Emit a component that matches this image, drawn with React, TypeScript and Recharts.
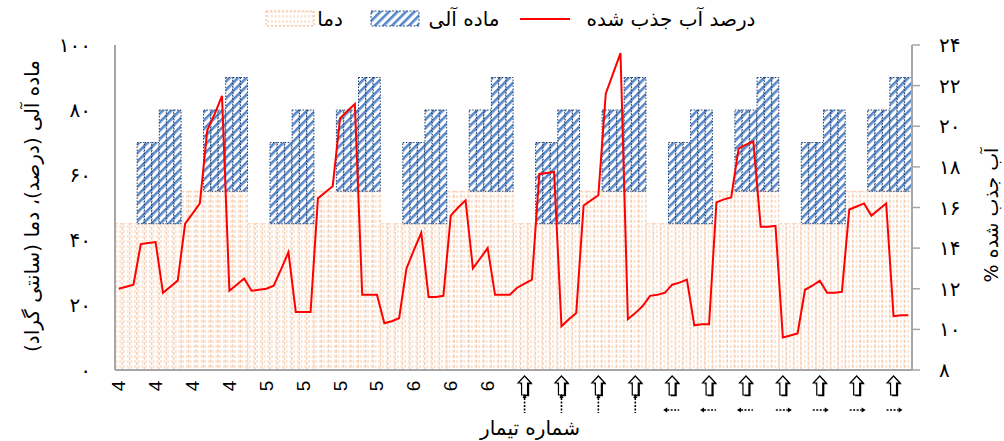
import React from 'react';
import { ComposedChart, Bar, Line, XAxis, YAxis, Label } from 'recharts';

const categories = Array.from({ length: 108 }, (_, i) => `T${i + 1}`);

const temperature = [
  45, 45, 45, 45, 45, 45, 45, 45, 45, 55, 55, 55, 55, 55, 55, 55, 55, 55,
  45, 45, 45, 45, 45, 45, 45, 45, 45, 55, 55, 55, 55, 55, 55, 55, 55, 55,
  45, 45, 45, 45, 45, 45, 45, 45, 45, 55, 55, 55, 55, 55, 55, 55, 55, 55,
  45, 45, 45, 45, 45, 45, 45, 45, 45, 55, 55, 55, 55, 55, 55, 55, 55, 55,
  45, 45, 45, 45, 45, 45, 45, 45, 45, 55, 55, 55, 55, 55, 55, 55, 55, 55,
  45, 45, 45, 45, 45, 45, 45, 45, 45, 55, 55, 55, 55, 55, 55, 55, 55, 55,
];

const organicMatter = [
  0, 0, 0, 25, 25, 25, 35, 35, 35, 0, 0, 0, 25, 25, 25, 35, 35, 35,
  0, 0, 0, 25, 25, 25, 35, 35, 35, 0, 0, 0, 25, 25, 25, 35, 35, 35,
  0, 0, 0, 25, 25, 25, 35, 35, 35, 0, 0, 0, 25, 25, 25, 35, 35, 35,
  0, 0, 0, 25, 25, 25, 35, 35, 35, 0, 0, 0, 25, 25, 25, 35, 35, 35,
  0, 0, 0, 25, 25, 25, 35, 35, 35, 0, 0, 0, 25, 25, 25, 35, 35, 35,
  0, 0, 0, 25, 25, 25, 35, 35, 35, 0, 0, 0, 25, 25, 25, 35, 35, 35,
];

const waterAbsorbed = [
  12.0, 12.1, 12.2, 14.2, 14.25, 14.3, 11.8, 12.1, 12.4, 15.2, 15.7, 16.2, 19.8, 20.6, 21.5, 11.9, 12.2, 12.5,
  11.9, 11.95, 12.0, 12.15, 12.95, 13.8, 10.85, 10.85, 10.85, 16.45, 16.75, 17.05, 20.4, 20.75, 21.1, 11.7, 11.7, 11.7,
  10.3, 10.4, 10.55, 13.0, 13.9, 14.75, 11.6, 11.6, 11.65, 15.6, 16.0, 16.35, 13.0, 13.5, 14.0, 11.7, 11.7, 11.7,
  12.05, 12.25, 12.45, 17.65, 17.7, 17.75, 10.15, 10.5, 10.8, 16.1, 16.35, 16.6, 21.6, 22.6, 23.6, 10.5, 10.8, 11.15,
  11.65, 11.7, 11.8, 12.2, 12.3, 12.45, 10.2, 10.25, 10.25, 16.25, 16.4, 16.5, 18.9, 19.1, 19.25, 15.05, 15.05, 15.1,
  9.6, 9.7, 9.8, 11.95, 12.15, 12.4, 11.8, 11.8, 11.85, 15.9, 16.05, 16.2, 15.6, 15.9, 16.2, 10.65, 10.7, 10.7,
];

const xTickCategories = [
  'T1', 'T6', 'T11', 'T16', 'T21', 'T26', 'T31', 'T36', 'T41', 'T46', 'T51',
  'T56', 'T61', 'T66', 'T71', 'T76', 'T81', 'T86', 'T91', 'T96', 'T101', 'T106',
];
const xTickLabels = [
  '4', '4', '4', '4', '5', '5', '5', '5', '6', '6', '6',
  'up', 'up', 'up', 'up', 'left', 'left', 'left', 'right', 'right', 'right', 'right',
];

const leftTicks = [0, 20, 40, 60, 80, 100];
const rightTicks = [8, 10, 12, 14, 16, 18, 20, 22, 24];
const rightMinorTicks = [8, 9, 10, 11, 12, 13, 14, 15, 16, 17, 18, 19, 20, 21, 22, 23, 24];

const legendNames = { temp: 'دما', organic: 'ماده آلی', water: 'درصد آب جذب شده' };
const xTitle = 'شماره تیمار';
const leftTitle = 'ماده آلی (درصد)، دما (سانتی گراد)';
const rightTitle = 'آب جذب شده %';

const data = categories.map((c, i) => ({
  cat: c,
  temp: temperature[i],
  organic: organicMatter[i],
  water: waterAbsorbed[i],
}));

const FA = 'DejaVu Sans';
const persian = (n: number) => String(n).replace(/\d/g, (d) => '۰۱۲۳۴۵۶۷۸۹'[+d]);

const ArrowBody = ({ x, y }: { x: number; y: number }) => {
  const d = `M ${x} ${y - 2} L ${x + 6.5} ${y + 5} L ${x + 3} ${y + 5} L ${x + 3} ${y + 17} L ${x - 3} ${y + 17} L ${x - 3} ${y + 5} L ${x - 6.5} ${y + 5} Z`;
  return (
    <g>
      <path d={d} transform="translate(1.6,1.2)" fill="#000" />
      <path d={d} fill="#fff" stroke="#000" strokeWidth={1.2} />
    </g>
  );
};

const XTick = (props: any) => {
  const { x, y, payload } = props;
  const idx = xTickCategories.indexOf(payload.value);
  if (idx < 0) return null;
  const lab = xTickLabels[idx];
  if (lab === 'up' || lab === 'left' || lab === 'right') {
    return (
      <g>
        <ArrowBody x={x} y={y} />
        {lab === 'up' && (
          <g>
            <path d={`M ${x - 2} ${y + 20} L ${x + 2} ${y + 20} L ${x} ${y + 16} Z`} fill="#000" />
            <line x1={x} y1={y + 20} x2={x} y2={y + 35} stroke="#000" strokeWidth={1.6} strokeDasharray="2 1.5" />
          </g>
        )}
        {lab === 'left' && (
          <g>
            <line x1={x - 5} y1={y + 32} x2={x + 7} y2={y + 32} stroke="#000" strokeWidth={1.6} strokeDasharray="2 1.5" />
            <path d={`M ${x - 9} ${y + 32} L ${x - 5} ${y + 29.5} L ${x - 5} ${y + 34.5} Z`} fill="#000" />
          </g>
        )}
        {lab === 'right' && (
          <g>
            <line x1={x - 7} y1={y + 32} x2={x + 5} y2={y + 32} stroke="#000" strokeWidth={1.6} strokeDasharray="2 1.5" />
            <path d={`M ${x + 9} ${y + 32} L ${x + 5} ${y + 29.5} L ${x + 5} ${y + 34.5} Z`} fill="#000" />
          </g>
        )}
      </g>
    );
  }
  const cy = y + 8;
  return (
    <text
      x={x}
      y={cy}
      transform={`rotate(-90 ${x} ${cy})`}
      textAnchor="middle"
      dominantBaseline="central"
      fontSize={19}
      fontFamily="Liberation Sans"
      fill="#000"
    >
      {lab}
    </text>
  );
};

const Patterns = () => (
  <defs>
    <pattern id="tempPat" patternUnits="userSpaceOnUse" width={3.7} height={5}>
      <rect x={0} y={0} width={3.7} height={5} fill="#fff" />
      <rect x={1.4} y={0} width={0.9} height={3} fill="#f8c8a4" />
    </pattern>
    <pattern id="orgPat" patternUnits="userSpaceOnUse" width={6} height={6} patternTransform="rotate(45)">
      <rect x={0} y={0} width={6} height={6} fill="#fff" />
      <rect x={0} y={0} width={2.6} height={6} fill="#5687c6" />
    </pattern>
  </defs>
);

const Legend = () => (
  <svg width={1004} height={40} style={{ position: 'absolute', left: 0, top: 0 }}>
    <Patterns />
    <rect x={266} y={11} width={48} height={15} fill="url(#tempPat)" stroke="#f4b183" strokeDasharray="2 2" strokeWidth={1} />
    <text x={330} y={19} textAnchor="middle" dominantBaseline="central" direction="rtl" fontFamily={FA} fontSize={20} fill="#000">
      {legendNames.temp}
    </text>
    <rect x={371} y={11} width={48} height={15} fill="url(#orgPat)" stroke="#2f5597" strokeDasharray="2 1.5" strokeWidth={1} />
    <text x={464} y={19} textAnchor="middle" dominantBaseline="central" direction="rtl" fontFamily={FA} fontSize={20} fill="#000">
      {legendNames.organic}
    </text>
    <line x1={520} y1={19} x2={570} y2={19} stroke="#ff0000" strokeWidth={2} />
    <text x={671} y={19} textAnchor="middle" dominantBaseline="central" direction="rtl" fontFamily={FA} fontSize={20} fill="#000">
      {legendNames.water}
    </text>
  </svg>
);

export default function App() {
  return (
    <div style={{ position: 'absolute', left: 0, top: 0, width: 1004, height: 441, background: '#fff' }}>
      <ComposedChart
        width={1004}
        height={441}
        data={data}
        margin={{ top: 45, right: 0, bottom: 0, left: 0 }}
        barCategoryGap={0}
        barGap={0}
      >
        <Patterns />
        <XAxis
          dataKey="cat"
          height={71}
          ticks={xTickCategories}
          interval={0}
          tick={<XTick />}
          tickLine={false}
          axisLine={{ stroke: '#a6a6a6', strokeWidth: 2 }}
        >
          <Label
            content={() => (
              <text x={530} y={428} textAnchor="middle" dominantBaseline="central" direction="rtl" fontFamily={FA} fontSize={20} fill="#000">
                {xTitle}
              </text>
            )}
          />
        </XAxis>
        <YAxis
          yAxisId="left"
          domain={[0, 100]}
          ticks={leftTicks}
          width={115}
          tickFormatter={persian}
          tickLine={false}
          tickMargin={18}
          axisLine={{ stroke: '#a6a6a6', strokeWidth: 2 }}
          tick={{ fontSize: 20, fill: '#000', fontFamily: FA }}
        >
          <Label
            content={() => (
              <text
                x={32}
                y={206}
                transform="rotate(-90 32 206)"
                textAnchor="middle"
                dominantBaseline="central"
                direction="rtl"
                fontFamily={FA}
                fontSize={20}
                fill="#000"
              >
                {leftTitle}
              </text>
            )}
          />
        </YAxis>
        <YAxis
          yAxisId="rightMinor"
          orientation="right"
          domain={[8, 24]}
          ticks={rightMinorTicks}
          width={0}
          mirror
          tick={false}
          tickSize={6}
          tickLine={{ stroke: '#a6a6a6', strokeWidth: 1.5 }}
          axisLine={false}
        />
        <YAxis
          yAxisId="right"
          orientation="right"
          domain={[8, 24]}
          ticks={rightTicks}
          width={92}
          tickFormatter={persian}
          tickSize={8}
          tickMargin={19}
          tickLine={{ stroke: '#a6a6a6', strokeWidth: 1.5 }}
          axisLine={{ stroke: '#a6a6a6', strokeWidth: 2 }}
          tick={{ fontSize: 20, fill: '#000', fontFamily: FA }}
        >
          <Label
            content={() => (
              <text
                x={991}
                y={215}
                transform="rotate(-90 991 215)"
                textAnchor="middle"
                dominantBaseline="central"
                direction="rtl"
                fontFamily={FA}
                fontSize={19}
                fill="#000"
              >
                {rightTitle}
              </text>
            )}
          />
        </YAxis>
        <Bar
          yAxisId="left"
          dataKey="temp"
          stackId="s"
          fill="url(#tempPat)"
          stroke="#f8cbad"
          strokeDasharray="3 2"
          strokeWidth={1}
          isAnimationActive={false}
        />
        <Bar
          yAxisId="left"
          dataKey="organic"
          stackId="s"
          fill="url(#orgPat)"
          stroke="#1f3f74"
          strokeDasharray="1.5 1.5"
          strokeWidth={1}
          isAnimationActive={false}
        />
        <Line
          yAxisId="right"
          dataKey="water"
          stroke="#ff0000"
          strokeWidth={2}
          dot={false}
          activeDot={false}
          isAnimationActive={false}
        />
      </ComposedChart>
      <Legend />
    </div>
  );
}
